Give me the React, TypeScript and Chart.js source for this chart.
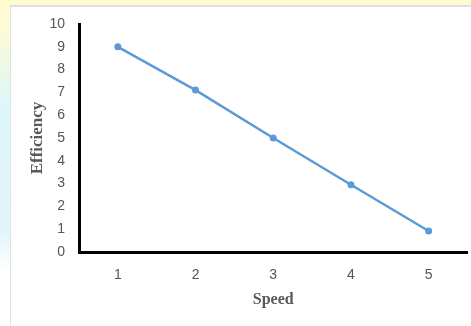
import React, { useEffect, useRef } from "react";
import { Chart, registerables } from "chart.js";

Chart.register(...registerables);

const speeds = ["1", "2", "3", "4", "5"];
const efficiency = [9, 7.1, 5, 2.95, 0.92];
const yTitle = "Efficiency";
const xTitle = "Speed";

export default function App() {
  const ref = useRef<HTMLCanvasElement | null>(null);

  useEffect(() => {
    document.body.style.margin = "0";
    const ctx = ref.current!;
    const chart = new Chart(ctx, {
      type: "line",
      data: {
        labels: speeds,
        datasets: [
          {
            data: efficiency,
            borderColor: "#5B9BD5",
            backgroundColor: "#5B9BD5",
            borderWidth: 2.5,
            pointRadius: 3.5,
            pointHoverRadius: 3.5,
            pointBorderWidth: 0,
            tension: 0,
          },
        ],
      },
      options: {
        animation: false,
        responsive: false,
        maintainAspectRatio: false,
        layout: { padding: { top: 24, right: 3, bottom: 0, left: 0 } },
        plugins: { legend: { display: false }, tooltip: { enabled: false } },
        scales: {
          x: {
            offset: true,
            grid: { display: false, drawTicks: false },
            border: { display: true, color: "#000000", width: 3 },
            ticks: {
              color: "#555555",
              font: { family: "'Liberation Sans', Arial, sans-serif", size: 14 },
              padding: 15,
            },
            title: {
              display: true,
              text: xTitle,
              color: "#595959",
              font: { family: "'Liberation Serif', 'Times New Roman', serif", size: 16, weight: "bold" },
              padding: { top: 0, bottom: 17 },
            },
            afterFit: (s: any) => {
              s.height = 74;
            },
          },
          y: {
            min: 0,
            max: 10,
            grid: { display: false, drawTicks: false },
            border: { display: true, color: "#000000", width: 3 },
            ticks: {
              stepSize: 1,
              color: "#555555",
              font: { family: "'Liberation Sans', Arial, sans-serif", size: 14 },
              padding: 14,
            },
            title: {
              display: true,
              text: yTitle,
              color: "#595959",
              font: { family: "'Liberation Serif', 'Times New Roman', serif", size: 17, weight: "bold" },
              padding: { top: 27, bottom: 0 },
            },
            afterFit: (s: any) => {
              s.width = 79;
            },
          },
        },
      },
    });
    return () => chart.destroy();
  }, []);

  return (
    <div
      style={{
        position: "relative",
        width: 471,
        height: 326,
        overflow: "hidden",
        background:
          "linear-gradient(to bottom, #fffbd0 0px, #fdfbd6 30px, #dcf6fb 110px, #e2f4fb 230px, #ffffff 270px)",
      }}
    >
      <div
        style={{
          position: "absolute",
          left: 10,
          top: 5,
          right: 0,
          bottom: 0,
          background: "#ffffff",
          borderLeft: "1px solid #e2e2e2",
          borderTop: "2px solid #dedede",
        }}
      />
      <canvas
        ref={ref}
        width={471}
        height={326}
        style={{ position: "absolute", left: 0, top: 0, width: 471, height: 326 }}
      />
    </div>
  );
}
